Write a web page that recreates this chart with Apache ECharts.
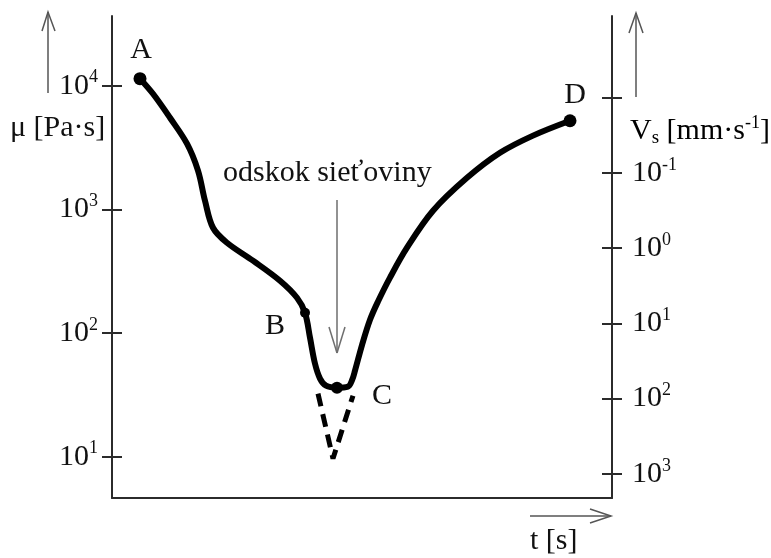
<!DOCTYPE html>
<html>
<head>
<meta charset="utf-8">
<script src="https://cdn.jsdelivr.net/npm/echarts@6/dist/echarts.min.js"></script>
<style>
  html, body { margin: 0; padding: 0; background: #fff; }
  #chart { width: 771px; height: 558px; }
</style>
</head>
<body>
<div id="chart"></div>
<script>
const FONT = '"Liberation Serif", "Times New Roman", serif';
const INK = '#111111';
const AXIS = '#2b2b2b';

// Solid curve: time (arbitrary units) and viscosity μ [Pa·s]
const curveTime = [5.6, 8.2, 11.6, 15.0, 17.2, 18.6, 20.2, 23.0, 28.2, 33.6, 37.0, 38.6,
                   39.6, 40.6, 41.6, 42.8, 45.0, 47.2, 48.0, 48.6, 50.0, 51.6, 53.2, 55.6,
                   59.0, 64.2, 71.0, 77.6, 84.2, 91.6];
const curveMu   = [11400, 8610, 5510, 3400, 2060, 1175, 711, 538, 385, 265, 193, 146,
                   91.8, 56.6, 42.9, 37.6, 36.2, 36.9, 41.5, 49.7, 80, 128, 180, 281,
                   490, 975, 1800, 2870, 3950, 5210];

// Dashed continuation below the dip
const dashTime = [41.2, 44.2, 48.2];
const dashMu   = [32.4, 9.66, 31.2];

// Marked points
const pointNames = ['A', 'B', 'C', 'D'];
const pointTime  = [5.6, 38.6, 45.0, 91.6];
const pointMu    = [11400, 146, 36.2, 5210];
const pointSize  = [13, 10, 12, 13];
const pointLabelOffset = [[1, -29], [-30, 13], [45, 8], [5, -26]];

// Decade ticks (exponents)
const muTickExp  = [1, 2, 3, 4];
const vsTickExp  = [-2, -1, 0, 1, 2, 3];
const vsLabelExp = [-1, 0, 1, 2, 3];

// Annotation arrow ("odskok sieťoviny") in data units
const arrowTime = 45.0;
const arrowWingTime = [43.4, 46.6];
const arrowTopMu = 1191, arrowTipMu = 69, arrowWingMu = 112;

const lg = Math.log10;
const MU_MIN = 0.6665, MU_MAX = 4.564;
const VS_MIN = -3.088, VS_MAX = 3.322;

const richPow = {
  b: { fontFamily: FONT, fontSize: 30, color: INK, lineHeight: 34 },
  s: { fontFamily: FONT, fontSize: 18, color: INK, lineHeight: 28, verticalAlign: 'top' }
};
const powFmt = v => '{b|10}{s|' + v + '}';

function yAxisBase(extra) {
  return Object.assign({
    type: 'value',
    splitLine: { show: false },
    axisLine: { show: false },
    axisLabel: { show: false },
    axisTick: { show: false }
  }, extra);
}

const chart = echarts.init(document.getElementById('chart'));

const option = {
  animation: false,
  backgroundColor: '#ffffff',
  grid: { left: 112, right: 159, top: 16, bottom: 60, containLabel: false, outerBoundsMode: 'none' },
  xAxis: {
    type: 'value', min: 0, max: 100,
    axisLine: { show: true, onZero: false, lineStyle: { color: AXIS, width: 2 } },
    axisTick: { show: false }, axisLabel: { show: false }, splitLine: { show: false }
  },
  yAxis: [
    yAxisBase({
      position: 'left', min: MU_MIN, max: MU_MAX,
      axisLine: { show: true, onZero: false, lineStyle: { color: AXIS, width: 2 } },
      axisTick: { show: true, inside: false, length: 10, customValues: muTickExp,
                  lineStyle: { color: AXIS, width: 2 } },
      axisLabel: { show: true, customValues: muTickExp, margin: 14, formatter: powFmt, rich: richPow }
    }),
    yAxisBase({
      position: 'right', inverse: true, min: VS_MIN, max: VS_MAX,
      axisLine: { show: true, onZero: false, lineStyle: { color: AXIS, width: 2 } },
      axisTick: { show: true, inside: false, length: 10, customValues: vsTickExp,
                  lineStyle: { color: AXIS, width: 2 } },
      axisLabel: { show: true, customValues: vsLabelExp, margin: 20, formatter: powFmt, rich: richPow }
    }),
    yAxisBase({
      position: 'left', min: MU_MIN, max: MU_MAX,
      axisTick: { show: true, inside: true, length: 10, customValues: muTickExp,
                  lineStyle: { color: AXIS, width: 2 } }
    }),
    yAxisBase({
      position: 'right', inverse: true, min: VS_MIN, max: VS_MAX,
      axisTick: { show: true, inside: true, length: 10, customValues: vsTickExp,
                  lineStyle: { color: AXIS, width: 2 } }
    })
  ],
  series: [
    {
      type: 'line', yAxisIndex: 0, smooth: 0.35, showSymbol: false, silent: true,
      data: curveTime.map((t, i) => [t, lg(curveMu[i])]),
      lineStyle: { color: '#000', width: 6, cap: 'round', join: 'round' }
    },
    {
      type: 'line', yAxisIndex: 0, showSymbol: false, silent: true,
      data: dashTime.map((t, i) => [t, lg(dashMu[i])]),
      lineStyle: { color: '#000', width: 5, type: [13, 8] }
    },
    {
      type: 'scatter', yAxisIndex: 0, silent: true,
      data: pointNames.map((n, i) => ({
        name: n,
        value: [pointTime[i], lg(pointMu[i])],
        symbolSize: pointSize[i],
        label: { offset: pointLabelOffset[i] }
      })),
      itemStyle: { color: '#000', opacity: 1 },
      label: {
        show: true, position: 'inside', formatter: '{b}', opacity: 1,
        fontFamily: FONT, fontSize: 30, color: INK, textBorderWidth: 0
      },
      markLine: {
        silent: true, symbol: ['none', 'none'], animation: false,
        label: { show: false },
        lineStyle: { color: '#6e6e6e', width: 1.5, type: 'solid', opacity: 1 },
        data: [
          [{ coord: [arrowTime, lg(arrowTopMu)] }, { coord: [arrowTime, lg(arrowTipMu)] }],
          [{ coord: [arrowWingTime[0], lg(arrowWingMu)] }, { coord: [arrowTime, lg(arrowTipMu)] }],
          [{ coord: [arrowWingTime[1], lg(arrowWingMu)] }, { coord: [arrowTime, lg(arrowTipMu)] }]
        ]
      }
    }
  ],
  graphic: [
    // axis direction arrows
    { type: 'line', shape: { x1: 48, y1: 93, x2: 48, y2: 12 }, style: { stroke: '#555', lineWidth: 1.5 } },
    { type: 'polyline', shape: { points: [[42, 31], [48, 12], [55, 31]] }, style: { stroke: '#555', lineWidth: 1.5, fill: null } },
    { type: 'line', shape: { x1: 636, y1: 97, x2: 636, y2: 13 }, style: { stroke: '#555', lineWidth: 1.5 } },
    { type: 'polyline', shape: { points: [[629, 33], [636, 13], [643, 33]] }, style: { stroke: '#555', lineWidth: 1.5, fill: null } },
    { type: 'line', shape: { x1: 530, y1: 516, x2: 611, y2: 516 }, style: { stroke: '#555', lineWidth: 1.5 } },
    { type: 'polyline', shape: { points: [[590, 509], [611, 516], [590, 523]] }, style: { stroke: '#555', lineWidth: 1.5, fill: null } },
    // axis titles
    { type: 'text', left: 10, top: 113, style: { text: 'μ [Pa·s]', font: '30px ' + FONT, fill: INK } },
    { type: 'text', left: 530, top: 526, style: { text: 't [s]', font: '30px ' + FONT, fill: INK } },
    {
      type: 'text', left: 630, top: 114,
      style: {
        text: '{n|V}{sub|s}{n| [mm·s}{sup|-1}{n|]}',
        rich: {
          n: { fontFamily: FONT, fontSize: 30, color: INK, lineHeight: 34 },
          sub: { fontFamily: FONT, fontSize: 19, color: INK, lineHeight: 34, verticalAlign: 'bottom' },
          sup: { fontFamily: FONT, fontSize: 18, color: INK, lineHeight: 28, verticalAlign: 'top' }
        }
      }
    },
    // annotation text
    { type: 'text', left: 223, top: 158, style: { text: 'odskok sieťoviny', font: '30px ' + FONT, fill: INK } }
  ]
};

chart.setOption(option);
</script>
</body>
</html>
